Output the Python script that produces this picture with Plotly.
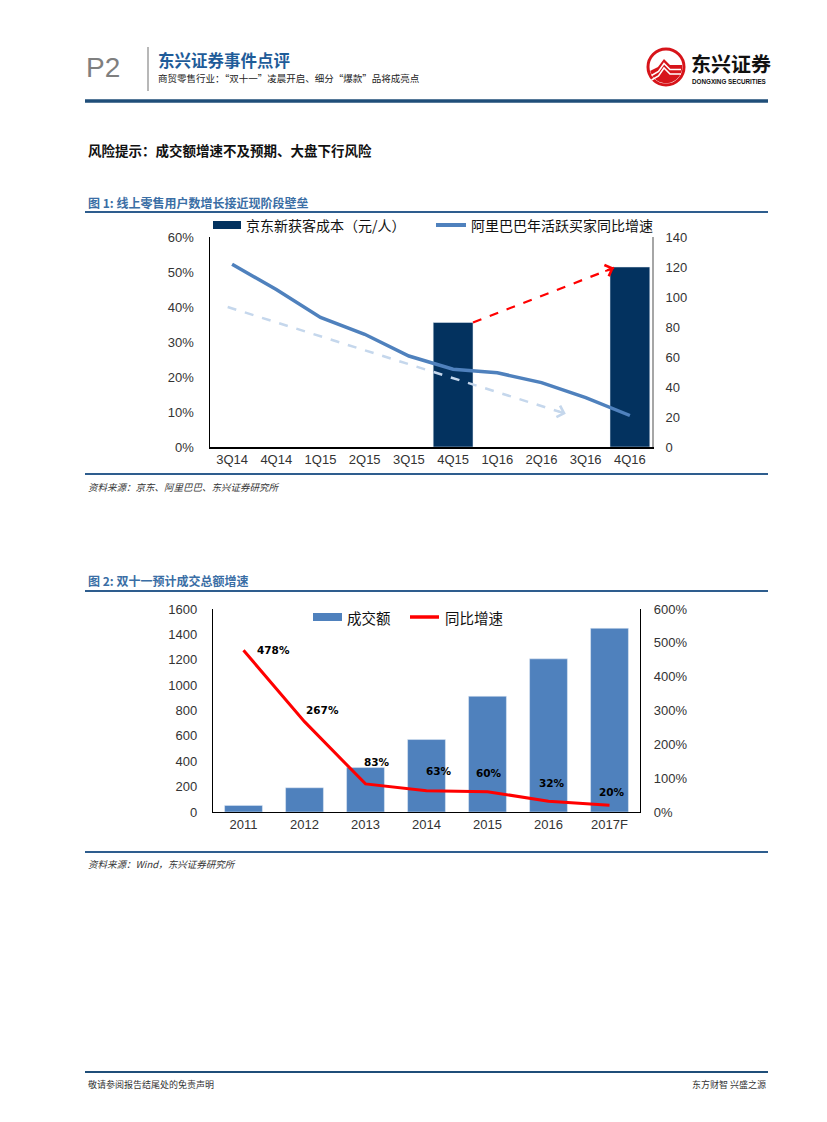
import numpy as np
import plotly.graph_objects as go

W, H = 827, 1122


def px(x):
    return x / W


def py(y):
    return 1 - y / H


# ---------------- data: chart 1 ----------------
quarters = ["3Q14", "4Q14", "1Q15", "2Q15", "3Q15", "4Q15", "1Q16", "2Q16", "3Q16", "4Q16"]
jd_cost = [None, None, None, None, None, 83, None, None, None, 120]          # 元/人
ali_growth = [0.522, 0.45, 0.37, 0.322, 0.26, 0.222, 0.212, 0.184, 0.141, 0.09]
trend_start = (-0.1, 0.40)
trend_end = (7.55, 0.095)

# ---------------- data: chart 2 ----------------
years = ["2011", "2012", "2013", "2014", "2015", "2016", "2017F"]
gmv = [52, 191, 350, 571, 912, 1207, 1448]
yoy = [4.78, 2.67, 0.83, 0.63, 0.60, 0.32, 0.20]
label_shift_x = [30, 18, 11, 12, 1, 3, 2]
label_shift_y = [0, 12, 22, 20, 19, 18, 13]

CJK = "Noto Sans CJK SC"
TICKF = "Liberation Sans, Arial, sans-serif"
NAVY = "#03325F"
STEEL = "#4F81BD"
RULE = "#2E5D8E"

q_idx = list(range(len(quarters)))
y_idx = list(range(len(years)))

fig = go.Figure()

# chart 1: bars on base (right) axis, line on overlaying (left) axis so the line sits above the bars
fig.add_trace(go.Bar(x=q_idx, y=jd_cost, name="京东新获客成本（元/人）", marker_color=NAVY,
                     width=0.9, xaxis="x", yaxis="y", showlegend=False))
fig.add_trace(go.Scatter(x=q_idx, y=ali_growth, name="阿里巴巴年活跃买家同比增速", mode="lines",
                         line=dict(color=STEEL, width=3.5), xaxis="x", yaxis="y2", showlegend=False))

# chart 2
fig.add_trace(go.Bar(x=y_idx, y=gmv, name="成交额", marker_color=STEEL, width=0.62,
                     xaxis="x2", yaxis="y3", showlegend=False))
fig.add_trace(go.Scatter(x=y_idx, y=yoy, name="同比增速", mode="lines",
                         line=dict(color="#FF0000", width=3), xaxis="x2", yaxis="y4", showlegend=False))

# ---------------- axes ----------------
c1x = (210, 652)
c1y = (447, 237)
c2x = (213, 640)
c2y = (812, 609)
tickfont = dict(family=TICKF, size=13, color="#333333")

fig.update_layout(
    xaxis=dict(domain=[px(c1x[0]), px(c1x[1])], range=[-0.5, len(quarters) - 0.5], tickvals=q_idx,
               ticktext=quarters, showline=True, linecolor="black", linewidth=1.5, ticks="",
               showgrid=False, zeroline=False, tickfont=tickfont, anchor="y", automargin=False),
    yaxis=dict(domain=[py(c1y[0]), py(c1y[1])], range=[0, 140], dtick=20, side="right",
               showline=True, linecolor="#A6A6A6", linewidth=2, showgrid=False, zeroline=False,
               ticks="", tickfont=tickfont, ticklabelstandoff=9, anchor="x", automargin=False),
    yaxis2=dict(range=[0, 0.6], dtick=0.1, tickformat=".0%", side="left", overlaying="y",
                showline=True, linecolor="black", linewidth=1.5, showgrid=False, zeroline=False,
                ticks="", tickfont=tickfont, ticklabelstandoff=12, anchor="x", automargin=False),
    xaxis2=dict(domain=[px(c2x[0]), px(c2x[1])], range=[-0.5, len(years) - 0.5], tickvals=y_idx,
                ticktext=years, showline=True, linecolor="black", linewidth=1.2, ticks="",
                showgrid=False, zeroline=False, tickfont=tickfont, anchor="y3", automargin=False),
    yaxis3=dict(domain=[py(c2y[0]), py(c2y[1])], range=[0, 1600], dtick=200, side="left",
                showline=True, linecolor="black", linewidth=1.2, showgrid=False, zeroline=False,
                ticks="", tickfont=tickfont, ticklabelstandoff=12, anchor="x2", automargin=False),
    yaxis4=dict(range=[0, 6], dtick=1, tickformat=".0%", side="right", overlaying="y3",
                showline=True, linecolor="black", linewidth=1.2, showgrid=False, zeroline=False,
                ticks="", tickfont=tickfont, ticklabelstandoff=10, anchor="x2", automargin=False),
)

shapes = []
ann = []


def hline(y, x0=85, x1=768, color=RULE, width=2):
    shapes.append(dict(type="line", xref="paper", yref="paper", x0=px(x0), x1=px(x1),
                       y0=py(y), y1=py(y), line=dict(color=color, width=width)))


def text(x, y, s, size, color="black", family=CJK, xanchor="left", bold=False, italic=False):
    if bold:
        s = "<b>" + s + "</b>"
    if italic:
        s = "<i>" + s + "</i>"
    ann.append(dict(xref="paper", yref="paper", x=px(x), y=py(y), text=s, showarrow=False,
                    xanchor=xanchor, yanchor="middle", font=dict(size=size, color=color, family=family)))


# ---------------- page header ----------------
text(84, 68, "P2", 28, color="#7F7F7F", family="Liberation Sans")
shapes.append(dict(type="line", xref="paper", yref="paper", x0=px(148), x1=px(148), y0=py(47), y1=py(91),
                   line=dict(color="#A0A0A0", width=1.5)))
text(156, 60, "东兴证券事件点评", 16.5, color="#1F5C99", bold=True)
text(156, 78, "商贸零售行业：“双十一”凌晨开启、细分“爆款”品将成亮点", 9.5, color="#222222")
hline(101, width=3.5, color="#1F4E79")

# logo
cx, cy, r = 666, 67, 18
shapes.append(dict(type="circle", xref="paper", yref="paper", x0=px(cx - r), x1=px(cx + r),
                   y0=py(cy + r), y1=py(cy - r), line=dict(color="#D7141A", width=3), fillcolor="white"))
mount = [(-16, 4), (-8, 0), (-2, -8), (4, -2), (16, -2)]
a0 = np.arctan2(-2, 16)
a1 = np.arctan2(4, -16)
arc = [(16.2 * np.cos(a), 16.2 * np.sin(a)) for a in np.linspace(a0, a1, 24)]
poly = mount + arc
path = "M " + " L ".join(f"{px(cx + dx):.5f},{py(cy + dy):.5f}" for dx, dy in poly) + " Z"
shapes.append(dict(type="path", xref="paper", yref="paper", path=path, fillcolor="#D7141A",
                   line=dict(width=0)))
for off in (4.5, 9):
    pts = [(-14.5, 4 + off), (-7.5, 0 + off), (-2, -8 + off), (4, -2 + off), (15, -2 + off)]
    p = "M " + " L ".join(f"{px(cx + dx):.5f},{py(cy + dy):.5f}" for dx, dy in pts)
    shapes.append(dict(type="path", xref="paper", yref="paper", path=p, line=dict(color="white", width=1.6)))
text(689, 64, "东兴证券", 20, color="#111111", bold=True)
text(690, 81.5, "DONGXING SECURITIES", 6.3, color="#111111", family="Liberation Sans", bold=True)

# risk line
text(86, 150, "风险提示：成交额增速不及预期、大盘下行风险", 13.5, color="#111111", bold=True)

# ---------------- figure 1 frame ----------------
text(86, 203, "图 1: 线上零售用户数增长接近现阶段壁垒", 12, color="#3A6EA5", bold=True)
hline(212)
hline(474)
text(86, 487, "资料来源：京东、阿里巴巴、东兴证券研究所", 9.5, color="#333333", italic=True)

# legend 1 (manual)
shapes.append(dict(type="rect", xref="paper", yref="paper", x0=px(213), x1=px(241), y0=py(229), y1=py(221),
                   fillcolor=NAVY, line=dict(width=0)))
text(244, 225, "京东新获客成本（元/人）", 14, color="#111111")
shapes.append(dict(type="line", xref="paper", yref="paper", x0=px(436), x1=px(466), y0=py(225), y1=py(225),
                   line=dict(color=STEEL, width=4)))
text(469, 225, "阿里巴巴年活跃买家同比增速", 14, color="#111111")

# trend arrows (chart 1)
xpix = (c1x[1] - c1x[0]) / len(quarters)
y2pix = (c1y[0] - c1y[1]) / 0.6
ypix = (c1y[0] - c1y[1]) / 140.0


def arrow_head(x_end, y_end, dx_data, dy_data, sx, sy, yref, color):
    dxp = dx_data * sx
    dyp = -dy_data * sy
    L = np.hypot(dxp, dyp)
    k = 11.0 / L
    ann.append(dict(x=x_end, y=y_end, xref="x", yref=yref, ax=-dxp * k, ay=-dyp * k, showarrow=True,
                    arrowhead=4, arrowsize=1.3, arrowwidth=1.8, arrowcolor=color, text=""))


# light blue trend
shapes.append(dict(type="line", xref="x", yref="y2", x0=trend_start[0], y0=trend_start[1],
                   x1=trend_end[0], y1=trend_end[1], line=dict(color="#C5D7EC", width=2.5, dash="dash")))
arrow_head(trend_end[0], trend_end[1], trend_end[0] - trend_start[0], trend_end[1] - trend_start[1],
           xpix, y2pix, "y2", "#C5D7EC")

# red trend between JD bars
i0, i1 = 5, 9
rs = (i0 + 0.45, jd_cost[i0])
re_ = (i1 - 0.36, jd_cost[i1] - 0.5)
shapes.append(dict(type="line", xref="x", yref="y", x0=rs[0], y0=rs[1], x1=re_[0], y1=re_[1],
                   line=dict(color="#FF0000", width=2.2, dash="dash")))
arrow_head(re_[0], re_[1], re_[0] - rs[0], re_[1] - rs[1], xpix, ypix, "y", "#FF0000")

# ---------------- figure 2 frame ----------------
text(86, 580, "图 2: 双十一预计成交总额增速", 12, color="#3A6EA5", bold=True)
hline(591)
hline(852)
text(86, 864, "资料来源：Wind，东兴证券研究所", 9.5, color="#333333", italic=True)

# legend 2 (manual)
shapes.append(dict(type="rect", xref="paper", yref="paper", x0=px(313), x1=px(342), y0=py(621), y1=py(613),
                   fillcolor=STEEL, line=dict(width=0)))
text(345, 617, "成交额", 14.5, color="#111111")
shapes.append(dict(type="line", xref="paper", yref="paper", x0=px(410), x1=px(439), y0=py(617), y1=py(617),
                   line=dict(color="#FF0000", width=3.5)))
text(443, 617, "同比增速", 14.5, color="#111111")

# data labels chart 2
for i, v in enumerate(yoy):
    ann.append(dict(x=y_idx[i], y=v, xref="x2", yref="y4", text=f"<b>{round(v * 100)}%</b>", showarrow=False,
                    xshift=label_shift_x[i], yshift=label_shift_y[i],
                    font=dict(family="DejaVu Sans", size=10.5, color="black")))

# ---------------- footer ----------------
hline(1072, width=2, color="#1F4E79")
text(86, 1084, "敬请参阅报告结尾处的免责声明", 9, color="#333333")
text(768, 1084, "东方财智 兴盛之源", 9, color="#333333", xanchor="right")

fig.update_layout(
    width=W, height=H, autosize=False,
    margin=dict(l=0, r=0, t=0, b=0, pad=0, autoexpand=False),
    paper_bgcolor="white", plot_bgcolor="white",
    shapes=shapes, annotations=ann,
    bargap=0, showlegend=False, hovermode=False,
    font=dict(family=CJK),
)

fig.write_html("out.html",
               config={"displayModeBar": False, "staticPlot": True},
               post_script="document.body.style.margin='0';document.body.style.overflow='hidden';")
